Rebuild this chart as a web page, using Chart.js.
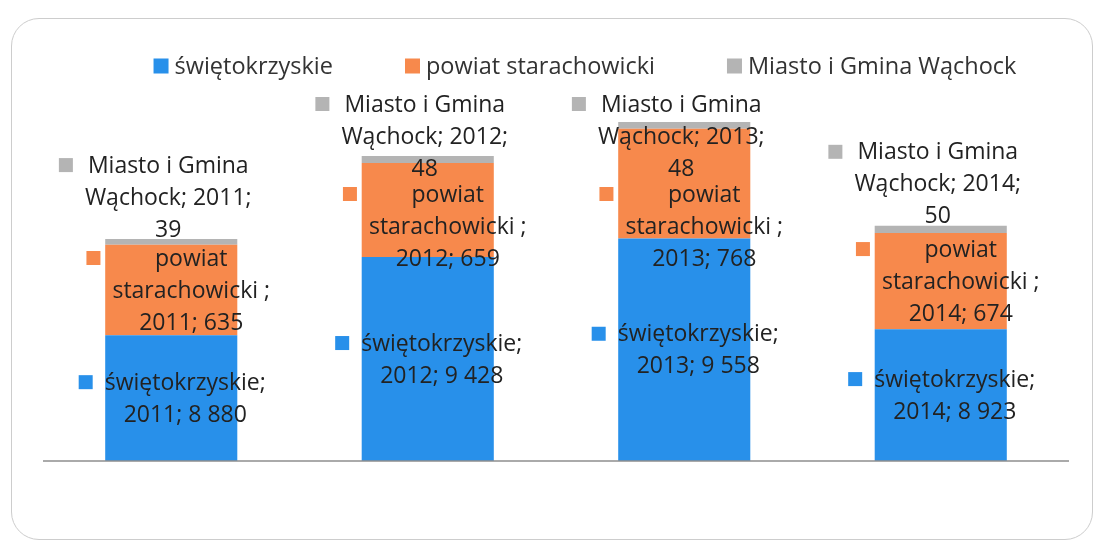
<!DOCTYPE html>
<html lang="pl">
<head>
<meta charset="utf-8">
<title>Wykres</title>
<script src="https://cdn.jsdelivr.net/npm/chart.js@4.4.1/dist/chart.umd.min.js"></script>
<style>
    html, body { margin: 0; padding: 0; background: #ffffff; }
    .wrap { position: relative; width: 1098px; height: 546px; overflow: hidden; }
    .ramka {
        position: absolute; left: 11px; top: 18px; width: 1082px; height: 522px;
        border: 1.5px solid #cdcdcd; border-radius: 28px; box-sizing: border-box;
    }
    #wykres { position: absolute; left: 0; top: 0; }
</style>
</head>
<body>
<div class="wrap">
    <div class="ramka"></div>
    <canvas id="wykres" width="1098" height="546"></canvas>
</div>
<script>
// Dane wykresu
const lata = ['2011', '2012', '2013', '2014'];
const serie = ['świętokrzyskie', 'powiat starachowicki ', 'Miasto i Gmina Wąchock'];
const swietokrzyskie = [8880, 9428, 9558, 8923];
const powiatStarachowicki = [635, 659, 768, 674];
const miastoWachock = [39, 48, 48, 50];
const kolory = ['#2890ea', '#f7894c', '#b4b4b4'];

const FONT = '"Open Sans", Lato, sans-serif';
// przesunięcie etykiet względem środka słupka (niebieska, pomarańczowa, szara)
const PRZESUNIECIE = [14, 20, -3];

// Formatowanie liczb ze spacją (8 880)
function formatLiczba(v) {
    return String(v).replace(/\B(?=(\d{3})+(?!\d))/g, ' ');
}

// Zawijanie tekstu etykiety do zadanej szerokości
function zawin(ctx, tekst, maxW) {
    const slowa = tekst.split(' ');
    const linie = [];
    let biezaca = '';
    slowa.forEach(s => {
        const proba = biezaca ? biezaca + ' ' + s : s;
        if (biezaca && ctx.measureText(proba).width > maxW) {
            linie.push(biezaca);
            biezaca = s;
        } else {
            biezaca = proba;
        }
    });
    if (biezaca) linie.push(biezaca);
    return linie;
}

// Legenda u góry
const legendaPlugin = {
    id: 'legenda',
    afterDraw(chart) {
        const ctx = chart.ctx;
        ctx.save();
        ctx.font = '23.5px ' + FONT;
        ctx.textBaseline = 'middle';
        const box = 15, odstep = 6, przerwa = 72;
        const szer = chart.data.datasets.map(d => box + odstep + ctx.measureText(d.label.trim()).width);
        const suma = szer.reduce((a, b) => a + b, 0) + przerwa * (szer.length - 1);
        let x = 585 - suma / 2;
        const y = 66;
        chart.data.datasets.forEach((d, i) => {
            ctx.fillStyle = d.backgroundColor;
            ctx.fillRect(x, y - box / 2, box, box);
            ctx.fillStyle = '#333333';
            ctx.fillText(d.label.trim(), x + box + odstep, y + 1);
            x += szer[i] + przerwa;
        });
        ctx.restore();
    }
};

// Oś pozioma i etykiety danych
const etykietyPlugin = {
    id: 'etykiety',
    afterDatasetsDraw(chart) {
        const ctx = chart.ctx;
        const area = chart.chartArea;
        const yBase = chart.scales.y.getPixelForValue(chart.scales.y.min);

        ctx.save();
        ctx.strokeStyle = '#8e8e8e';
        ctx.lineWidth = 1.5;
        ctx.beginPath();
        ctx.moveTo(area.left, yBase);
        ctx.lineTo(area.right, yBase);
        ctx.stroke();

        ctx.font = '23px ' + FONT;
        ctx.textAlign = 'center';
        ctx.textBaseline = 'middle';
        const lh = 32, box = 14;

        lata.forEach((rok, i) => {
            const el = chart.data.datasets.map((d, j) => chart.getDatasetMeta(j).data[i]);
            const bloki = chart.data.datasets.map((d, j) => {
                const tekst = d.label + '; ' + rok + '; ' + formatLiczba(d.data[i]);
                return zawin(ctx, tekst, 190);
            });

            // szara etykieta nad słupkiem, nie wyżej niż obszar wykresu
            const gSzara = bloki[2].length * lh;
            let topSzara = el[2].y + 6 - gSzara;
            topSzara = Math.max(topSzara, area.top - 16);

            // pomarańczowa - środek segmentu, ale pod szarą
            const gPom = bloki[1].length * lh;
            let topPom = (el[1].y + el[1].base) / 2 - gPom / 2;
            topPom = Math.max(topPom, topSzara + gSzara - 6);

            // niebieska - środek widocznej części segmentu
            const gNieb = bloki[0].length * lh;
            const dolNieb = Math.min(el[0].base, yBase);
            const topNieb = (el[0].y + dolNieb) / 2 - gNieb / 2;

            const topy = [topNieb, topPom, topSzara];
            bloki.forEach((linie, j) => {
                const cx = el[j].x + PRZESUNIECIE[j];
                const maxW = Math.max(...linie.map(l => ctx.measureText(l).width));
                const lewa = cx - maxW / 2;
                ctx.fillStyle = kolory[j];
                ctx.fillRect(lewa - 12 - box, topy[j] + lh / 2 - box / 2, box, box);
                ctx.fillStyle = '#222222';
                linie.forEach((l, k) => {
                    ctx.fillText(l, cx, topy[j] + lh / 2 + k * lh + 1);
                });
            });
        });
        ctx.restore();
    }
};

const ctx = document.getElementById('wykres').getContext('2d');
new Chart(ctx, {
    type: 'bar',
    data: {
        labels: lata,
        datasets: [
            { label: serie[0], data: swietokrzyskie, backgroundColor: kolory[0] },
            { label: serie[1], data: powiatStarachowicki, backgroundColor: kolory[1] },
            { label: serie[2], data: miastoWachock, backgroundColor: kolory[2] }
        ]
    },
    options: {
        responsive: false,
        animation: false,
        devicePixelRatio: 1,
        layout: { padding: { left: 43, right: 29, top: 104, bottom: 85 } },
        datasets: {
            bar: { barPercentage: 0.515, categoryPercentage: 1, borderWidth: 0 }
        },
        scales: {
            x: { stacked: true, display: false },
            y: { stacked: true, display: false, min: 8000, max: 10500 }
        },
        plugins: {
            legend: { display: false },
            tooltip: { enabled: false }
        }
    },
    plugins: [legendaPlugin, etykietyPlugin]
});
</script>
</body>
</html>
